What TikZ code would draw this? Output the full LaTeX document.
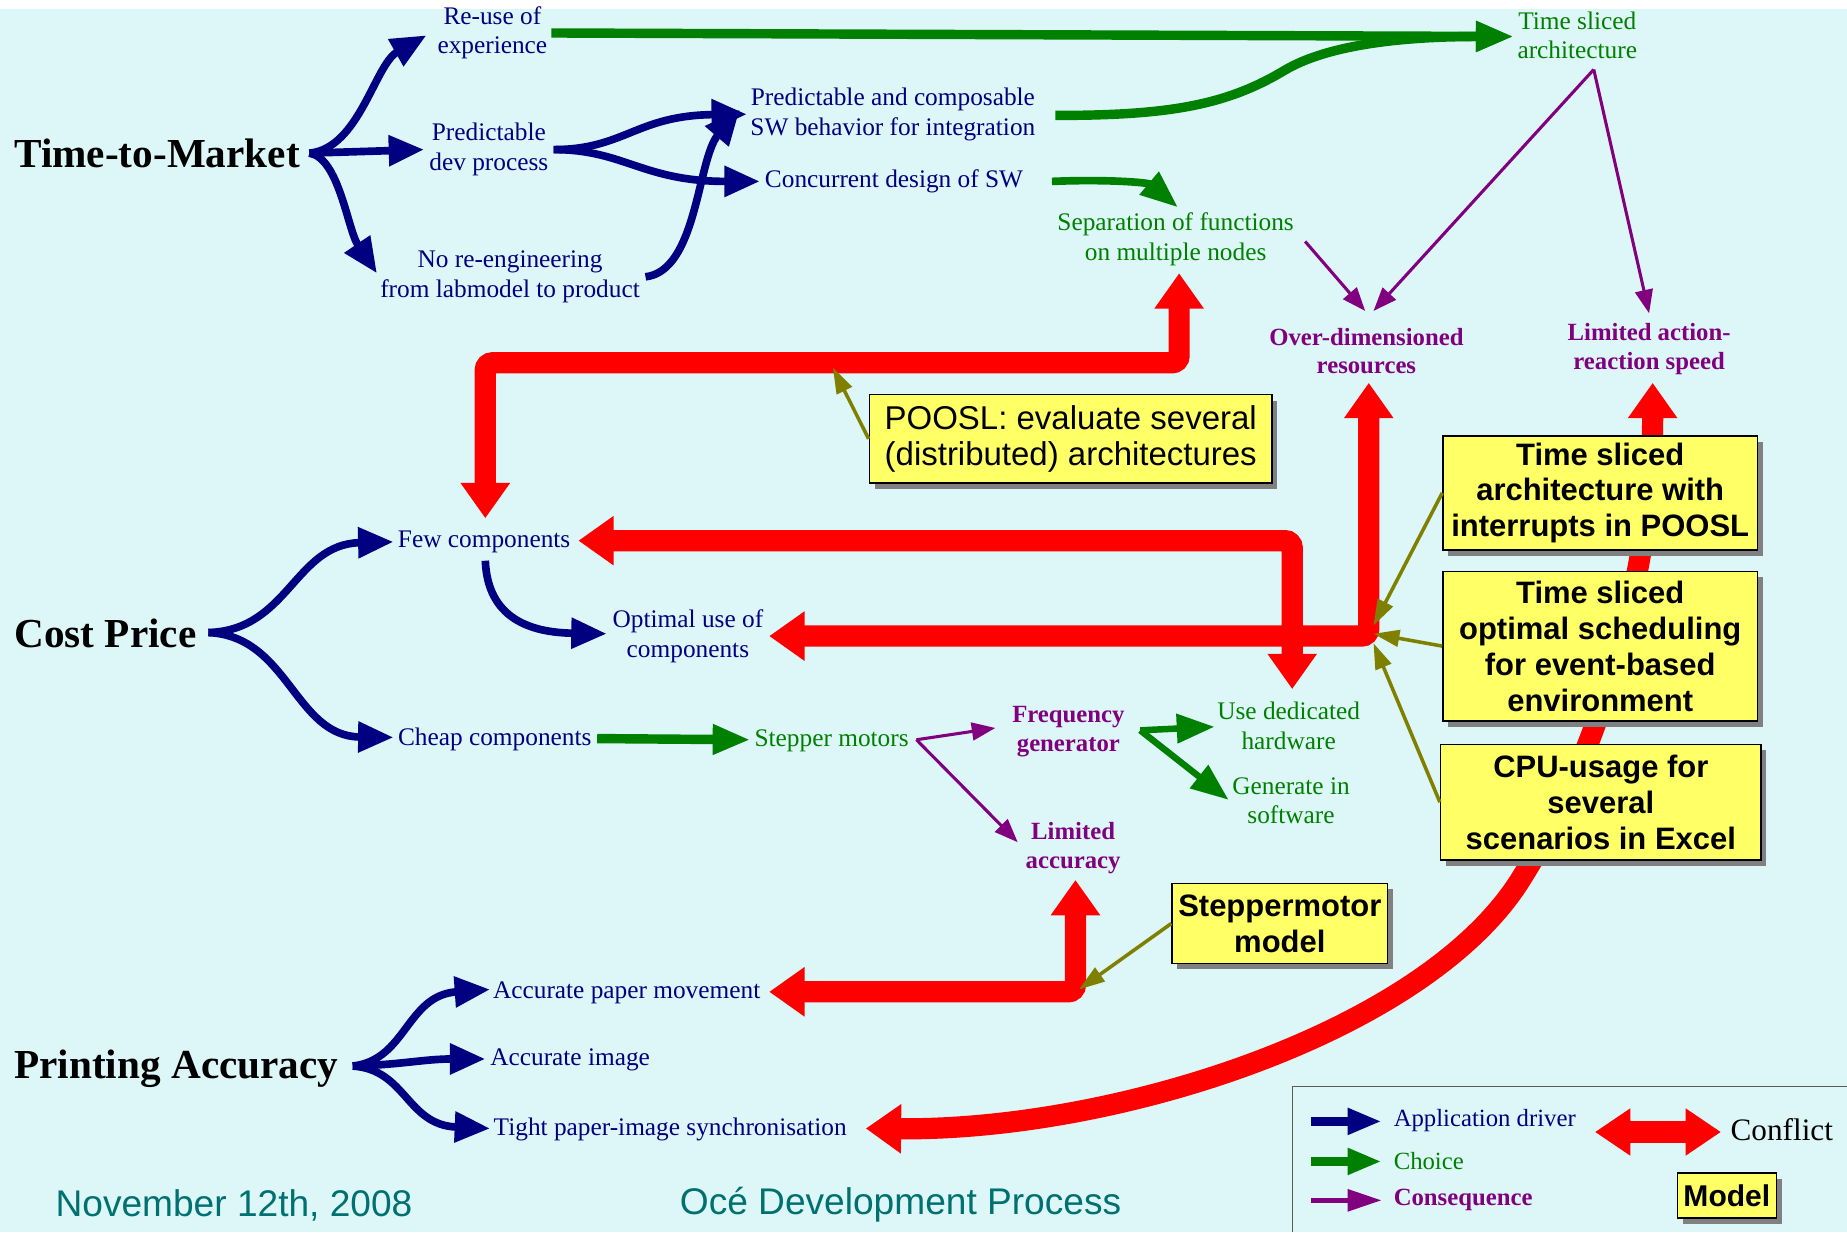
\documentclass[tikz,border=0pt]{standalone}
\usepackage{fontspec}
\setmainfont{Liberation Serif}
\newfontfamily\arialf{Liberation Sans}
\usetikzlibrary{arrows.meta,calc,shadows}

\definecolor{cNavy}{RGB}{0,0,128}
\definecolor{cGreen}{RGB}{0,128,0}
\definecolor{cPurple}{RGB}{128,0,128}
\definecolor{cOlive}{RGB}{128,128,0}
\definecolor{cRed}{RGB}{255,0,0}
\definecolor{cBack}{RGB}{221,246,247}
\definecolor{cYellow}{RGB}{255,255,102}
\definecolor{cTeal}{RGB}{0,112,112}
\definecolor{cShadow}{RGB}{128,128,128}
\definecolor{cFrame}{RGB}{90,90,90}

\tikzset{
  lbl/.style={inner sep=0pt, align=center, font=\fontsize{21.5}{25}\selectfont},
  drvtxt/.style={lbl, text=cNavy},
  chotxt/.style={lbl, text=cGreen},
  contxt/.style={lbl, text=cPurple, font=\fontsize{21}{24.5}\selectfont\bfseries},
  goal/.style={inner sep=0pt, anchor=west, font=\fontsize{35}{40}\selectfont\bfseries},
  modelbox/.style={draw=black, line width=1.3pt, fill=cYellow, inner sep=0pt, align=center,
    font=\arialf\fontsize{28}{30.5}\selectfont,
    general shadow={fill=cShadow, shadow xshift=4.5pt, shadow yshift=-5pt}},
  boldmodel/.style={modelbox, font=\arialf\bfseries\fontsize{26.3}{30.5}\selectfont},
  driver/.style={cNavy, line width=6.5pt, -{Triangle[length=30pt,width=25pt]}},
  choice/.style={cGreen, line width=8pt, -{Triangle[length=32pt,width=24pt]}},
  conseq/.style={cPurple, line width=2.6pt, -{Triangle[length=20pt,width=15pt]}},
  conflict/.style={cRed, line width=18pt, rounded corners=6pt,
    {Triangle[length=30pt,width=40pt]}-{Triangle[length=30pt,width=40pt]}},
  modellink/.style={cOlive, line width=3pt, -{Triangle[length=22pt,width=14pt]}},
  footer/.style={inner sep=0pt, anchor=west, text=cTeal, font=\arialf\fontsize{31.5}{36}\selectfont},
}

\begin{document}
\begin{tikzpicture}[x=1pt,y=-1pt]
\useasboundingbox (0,0) rectangle (1568,1046);
\fill[cBack] (0,7.6) rectangle (1568,1046);

% ---- goals ----
\node[goal] (ttm) at (12,130) {Time-to-Market};
\node[goal] (cp)  at (12,538) {Cost Price};
\node[goal] (pa)  at (12,907) {Printing Accuracy};

% ---- application drivers ----
\node[drvtxt] (reuse)   at (418,28)  {Re-use of\\experience};
\node[drvtxt] (pdp)     at (415,127) {Predictable\\dev process};
\node[drvtxt] (noreeng) at (433,235) {No re-engineering\\from labmodel to product};
\node[drvtxt] (pcsw)    at (758,97)  {Predictable and composable\\SW behavior for integration};
\node[drvtxt] (cdsw)    at (759,154) {Concurrent design of SW};
\node[drvtxt] (few)     at (411,460) {Few components};
\node[drvtxt] (opt)     at (584,540) {Optimal use of\\components};
\node[drvtxt] (cheap)   at (420,628) {Cheap components};
\node[drvtxt] (apm)     at (532,843) {Accurate paper movement};
\node[drvtxt] (aimg)    at (484,900) {Accurate image};
\node[drvtxt] (tpis)    at (569,959) {Tight paper-image synchronisation};

% ---- choices ----
\node[chotxt] (tsa)   at (1339,30)  {Time sliced\\architecture};
\node[chotxt] (sep)   at (998,203)  {Separation of functions\\on multiple nodes};
\node[chotxt] (stepm) at (706,629)  {Stepper motors};
\node[chotxt] (udh)   at (1094,616) {Use dedicated\\hardware};
\node[chotxt] (gis)   at (1096,680) {Generate in\\software};

% ---- consequences ----
\node[contxt] (ovd)  at (1160,298) {Over-dimensioned\\resources};
\node[contxt] (lars) at (1400,296) {Limited action-\\reaction speed};
\node[contxt] (freq) at (907,621)  {Frequency\\generator};
\node[contxt] (lacc) at (911,720)  {Limited\\accuracy};

% ---- conflicts ----
\draw[conflict] ($(few)+(1,-20)$) |- ($(sep)+(3,105)$) -- ($(sep)+(3,29)$);
\draw[conflict] ($(few)+(80,-1)$) -| ($(udh)+(3,-31)$);
\draw[conflict] ($(opt)+(69,0)$) -| ($(ovd)+(2,27)$);
\draw[conflict] ($(apm)+(121,-1)$) -| ($(lacc)+(2,27)$);
\draw[conflict] ($(lars)+(3,29)$) .. controls (1403,500) and (1350,650) .. (1295,740)
  .. controls (1212,875) and (950,960) .. ($(tpis)+(166,-1)$);

% ---- models ----
\node[modelbox, minimum width=342pt, minimum height=75pt] (poosl) at (909,372.5)
  {POOSL: evaluate several\\(distributed) architectures};
\node[boldmodel, minimum width=267pt, minimum height=97pt] (tsai) at (1358.5,418.5)
  {Time sliced\\architecture with\\interrupts in POOSL};
\node[boldmodel, minimum width=267pt, minimum height=127pt] (tsos) at (1358.5,548.5)
  {Time sliced\\optimal scheduling\\for event-based\\environment};
\node[boldmodel, minimum width=272pt, minimum height=98pt] (cpu) at (1359,681)
  {CPU-usage for\\several\\scenarios in Excel};
\node[boldmodel, minimum width=183pt, minimum height=68pt] (smm) at (1086.5,784)
  {Steppermotor\\model};

\coordinate (b1hit) at (707,312);
\coordinate (hub) at (1166,537);
\coordinate (b5hit) at (916,840);
\draw[modellink] (poosl.west) -- (b1hit);
\draw[modellink] (tsai.west) -- ($(hub)+(0,-6)$);
\draw[modellink] (tsos.west) -- ($(hub)+(0,1)$);
\draw[modellink] (cpu.west) -- ($(hub)+(0,9)$);
\draw[modellink] (smm.west) -- (b5hit);

% ---- driver arrows ----
\coordinate (ttmfork) at ($(ttm.east)+(8,0)$);
\draw[driver] (ttmfork) .. controls (305,126) and (318,55) .. ($(reuse)+(-56,2)$);
\draw[driver] (ttmfork) -- ($(pdp)+(-55,0)$);
\draw[driver] (ttmfork) .. controls (288,134) and (295,195) .. ($(noreeng)+(-113,-3)$);

\coordinate (pdpout) at ($(pdp)+(55,0)$);
\draw[driver] (pdpout) .. controls (530,127) and (540,98) .. ($(pcsw)+(-124,0)$);
\draw[driver] (pdpout) .. controls (530,127) and (545,154) .. ($(cdsw)+(-114,0)$);
\draw[driver] ($(noreeng)+(115,0)$) .. controls (592,230) and (592,135) .. ($(pcsw)+(-130,-4)$);

\coordinate (cpfork) at ($(cp.east)+(10,-1)$);
\draw[driver] (cpfork) .. controls (245,535) and (250,462) .. ($(few)+(-77,0)$);
\draw[driver] (cpfork) .. controls (245,540) and (250,625) .. ($(cheap)+(-86,-2)$);
\draw[driver] ($(few)+(1,16)$) .. controls (414,525) and (450,537) .. ($(opt)+(-69,-2)$);

\coordinate (pafork) at ($(pa.east)+(12,-2)$);
\draw[driver] (pafork) .. controls (345,900) and (345,845) .. ($(apm)+(-116,-3)$);
\draw[driver] (pafork) .. controls (340,904) and (360,899) .. ($(aimg)+(-72,-1)$);
\draw[driver] (pafork) .. controls (345,908) and (345,955) .. ($(tpis)+(-153,-1)$);

% ---- choice arrows ----
\draw[choice] ($(reuse)+(50,0)$) -- ($(tsa)+(-54,1)$);
\draw[choice] ($(pcsw)+(138,1)$) .. controls (990,98) and (1040,90) .. (1090,60)
  .. controls (1130,36) and (1200,31) .. ($(tsa)+(-54,1)$);
\draw[choice, line width=6.5pt] ($(cdsw)+(134,0)$) .. controls (940,152) and (975,155) .. ($(sep)+(2,-27)$);
\draw[choice] ($(cheap)+(87,-1)$) -- ($(stepm)+(-69,-1)$);
\coordinate (freqout) at ($(freq)+(61,-1)$);
\draw[choice, line width=5.5pt] (freqout) -- ($(udh)+(-63,1)$);
\draw[choice, line width=5.5pt] (freqout) -- ($(gis)+(-53,-1)$);

% ---- consequence arrows ----
\coordinate (tsaout) at ($(tsa)+(14,29)$);
\draw[conseq] (tsaout) -- ($(ovd)+(6,-34)$);
\draw[conseq] (tsaout) -- ($(lars)+(0,-30)$);
\draw[conseq] ($(sep)+(110,2)$) -- ($(ovd)+(-1,-34)$);
\coordinate (stepout) at ($(stepm)+(72,-1)$);
\draw[conseq] (stepout) -- ($(freq)+(-62,-3)$);
\draw[conseq] (stepout) -- ($(lacc)+(-47,-5)$);

% ---- legend ----
\draw[cFrame, line width=1.2pt] (1097,1046) -- (1097,922.5) -- (1568,922.5);
\node[lbl, anchor=west, text=cNavy, font=\fontsize{21}{24}\selectfont] (lgdrv) at (1183,951) {Application driver};
\node[lbl, anchor=west, text=cGreen, font=\fontsize{21}{24}\selectfont] (lgcho) at (1183,986) {Choice};
\node[lbl, anchor=west, text=cPurple, font=\fontsize{21}{24}\selectfont\bfseries] (lgcon) at (1183,1019) {Consequence};
\node[lbl, anchor=west, font=\fontsize{26.5}{30}\selectfont] (lgcf) at (1469,959) {Conflict};
\draw[cNavy, line width=8pt, -{Triangle[length=29pt,width=21pt]}] ($(lgdrv.west)+(-70,1)$) -- ($(lgdrv.west)+(-10,1)$);
\draw[cGreen, line width=8pt, -{Triangle[length=29pt,width=21pt]}] ($(lgcho.west)+(-70,0)$) -- ($(lgcho.west)+(-10,0)$);
\draw[cPurple, line width=4.5pt, -{Triangle[length=29pt,width=18pt]}] ($(lgcon.west)+(-70,0)$) -- ($(lgcon.west)+(-10,0)$);
\draw[cRed, line width=18pt, {Triangle[length=30pt,width=38pt]}-{Triangle[length=30pt,width=38pt]}]
  ($(lgcf.west)+(-115,2)$) -- ($(lgcf.west)+(-8,2)$);
\node[boldmodel, minimum width=84pt, minimum height=38pt, font=\arialf\bfseries\fontsize{25.5}{30}\selectfont] (lgmodel) at (1466,1015) {Model};

% ---- footer ----
\node[footer] (date) at (47,1023) {November 12th, 2008};
\node[footer] (proc) at (577,1023) {Océ Development Process};
\end{tikzpicture}
\end{document}
